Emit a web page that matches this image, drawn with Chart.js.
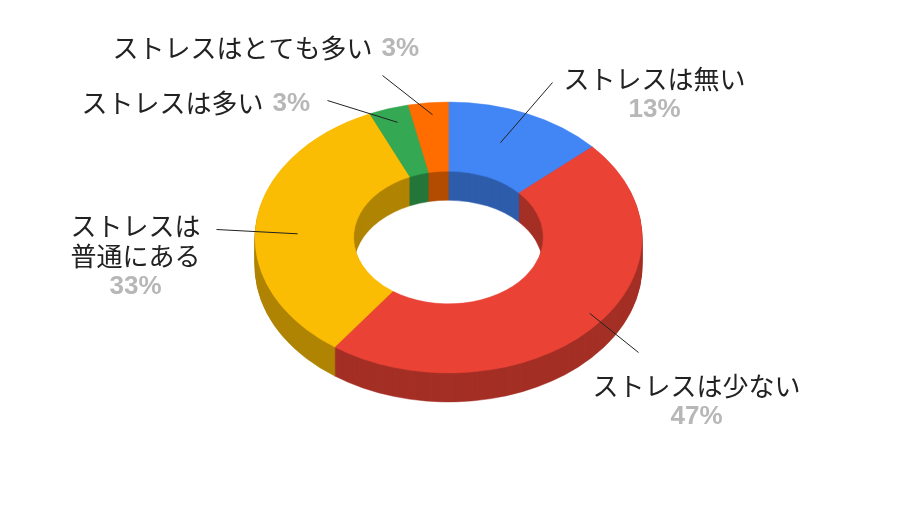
<!DOCTYPE html>
<html>
<head>
<meta charset="utf-8">
<script src="https://cdn.jsdelivr.net/npm/chart.js@4.4.1/dist/chart.umd.min.js"></script>
<style>
    html, body { margin: 0; padding: 0; background: #fff; }
    #wrap { width: 900px; height: 506px; }
</style>
</head>
<body>
<div id="wrap"><canvas id="stressChart"></canvas></div>
<script>
// Answers (30 respondents), clockwise from 12 o'clock
const categories = ['ストレスは無い', 'ストレスは少ない', 'ストレスは普通にある', 'ストレスは多い', 'ストレスはとても多い'];
const responses = [4, 14, 10, 1, 1];
const sliceColors = ['#4285F4', '#EA4335', '#FBBC04', '#34A853', '#FF6D01'];

// Tilt of the 3D ring and height of its side wall
const TILT = 0.70;
const DEPTH = 29;
const NAME_FONT = '26px "Noto Sans CJK JP", "Noto Sans", sans-serif';
const PCT_FONT = 'bold 26px "Liberation Sans", Arial, sans-serif';

// Where each label sits, relative to the ring centre (layout only, not data)
// anchor: radius fraction where the leader line touches the slice, turn: small angle nudge (deg)
const labelLayout = [
    { anchor: 0.75, turn: -3, end: [104, -155], lines: ['ストレスは無い'], x: 206, y: -158, align: 'center' },
    { anchor: 0.92, turn: -4.5, end: [190, 115], lines: ['ストレスは少ない'], x: 248, y: 149, align: 'center' },
    { anchor: 0.78, turn: -4, end: [-232, -8], lines: ['ストレスは', '普通にある'], x: -313, y: -11, align: 'center' },
    { anchor: 0.89, turn: 0.8, end: [-121, -137], lines: ['ストレスは多い'], x: -367, y: -134, align: 'inline' },
    { anchor: 0.91, turn: 0.8, end: [-66, -162], lines: ['ストレスはとても多い'], x: -336, y: -189, align: 'inline' }
];

const shade = (hex, f) => {
    const n = parseInt(hex.slice(1), 16);
    const r = Math.round(((n >> 16) & 255) * f);
    const g = Math.round(((n >> 8) & 255) * f);
    const b = Math.round((n & 255) * f);
    return `rgb(${r}, ${g}, ${b})`;
};

// Draws the doughnut as a tilted ring with a side wall
const ring3d = {
    id: 'ring3d',
    beforeDatasetsDraw(chart) {
        const ctx = chart.ctx;
        const arcs = chart.getDatasetMeta(0).data;

        const paint = (drop, dark) => {
            arcs.forEach((arc, i) => {
                const p = arc.getProps(['x', 'y', 'startAngle', 'endAngle', 'innerRadius', 'outerRadius'], true);
                const color = dark ? shade(sliceColors[i], 0.7) : sliceColors[i];
                ctx.save();
                ctx.translate(p.x, p.y + drop);
                ctx.scale(1, TILT);
                ctx.beginPath();
                ctx.arc(0, 0, p.outerRadius, p.startAngle, p.endAngle);
                ctx.arc(0, 0, p.innerRadius, p.endAngle, p.startAngle, true);
                ctx.closePath();
                ctx.fillStyle = color;
                ctx.strokeStyle = color;
                ctx.lineWidth = 0.6;
                ctx.fill();
                ctx.stroke();
                ctx.restore();
            });
        };

        for (let d = DEPTH; d > 0; d--) paint(d, true);
        paint(0, false);
        return false;
    },
    afterDraw(chart) {
        const ctx = chart.ctx;
        const arcs = chart.getDatasetMeta(0).data;
        const total = responses.reduce((a, b) => a + b, 0);

        arcs.forEach((arc, i) => {
            const L = labelLayout[i];
            const mid = (arc.startAngle + arc.endAngle) / 2 + L.turn * Math.PI / 180;
            const r = arc.outerRadius * L.anchor;
            const ax = arc.x + Math.cos(mid) * r;
            const ay = arc.y + Math.sin(mid) * r * TILT;
            const pct = Math.round(responses[i] / total * 100) + '%';

            // leader line
            ctx.save();
            ctx.strokeStyle = '#222';
            ctx.lineWidth = 1;
            ctx.beginPath();
            ctx.moveTo(ax, ay);
            ctx.lineTo(arc.x + L.end[0], arc.y + L.end[1]);
            ctx.stroke();

            ctx.textBaseline = 'middle';
            const lx = arc.x + L.x;
            let ly = arc.y + L.y;
            if (L.align === 'inline') {
                ctx.textAlign = 'left';
                ctx.font = NAME_FONT;
                ctx.fillStyle = '#222';
                ctx.fillText(L.lines[0], lx, ly);
                const w = ctx.measureText(L.lines[0]).width + 9;
                ctx.font = PCT_FONT;
                ctx.fillStyle = '#b7b7b7';
                ctx.fillText(pct, lx + w, ly);
            } else {
                ctx.textAlign = 'center';
                ctx.font = NAME_FONT;
                ctx.fillStyle = '#222';
                L.lines.forEach(t => { ctx.fillText(t, lx, ly); ly += 30; });
                ctx.font = PCT_FONT;
                ctx.fillStyle = '#b7b7b7';
                ctx.fillText(pct, lx, ly);
            }
            ctx.restore();
        });
    }
};

new Chart(document.getElementById('stressChart').getContext('2d'), {
    type: 'doughnut',
    data: {
        labels: categories,
        datasets: [{
            data: responses,
            backgroundColor: sliceColors,
            borderWidth: 0,
            hoverOffset: 0,
            offset: 0
        }]
    },
    options: {
        responsive: true,
        maintainAspectRatio: false,
        animation: false,
        events: [],
        cutout: '49%',
        layout: { padding: { left: 255, right: 258, top: 44, bottom: 75 } },
        plugins: {
            legend: { display: false },
            tooltip: { enabled: false }
        }
    },
    plugins: [ring3d]
});
</script>
</body>
</html>
